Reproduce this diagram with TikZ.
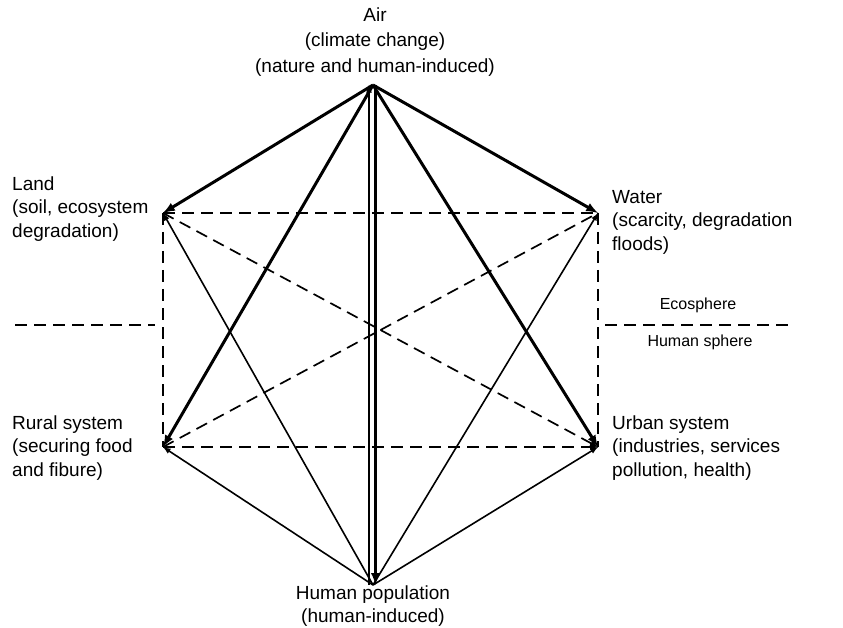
\documentclass[tikz,border=0pt]{standalone}
\usepackage{fontspec}
\setmainfont{Liberation Sans}
\usetikzlibrary{calc}
\usetikzlibrary{shapes,arrows}

\begin{document}
\begin{tikzpicture}[x=1pt,y=-1pt,
    heavy/.style={line width=3pt,-latex},
    light/.style={line width=1.6pt,-latex},
    dashline/.style={line width=1.7pt,dash pattern=on 12pt off 7pt},
    lbl/.style={font=\fontsize{19}{23.5}\selectfont,inner sep=0pt},
    small/.style={font=\fontsize{16}{20}\selectfont,inner sep=0pt}]
  \useasboundingbox (0,0) rectangle (843,628);
    \coordinate (A0) at (373,85);
    \coordinate (L0) at (163,213);
    \coordinate (W0) at (598,213);
    \coordinate (R0) at (163,447);
    \coordinate (U0) at (598,447);
    \coordinate (H0) at (373,585);
    \coordinate (D0) at (15,325);
    \coordinate (D1) at (155,325);
    \coordinate (D2) at (605,325);
    \coordinate (D3) at (790,325);
      \node [lbl,align=center,font=\fontsize{19}{25.5}\selectfont] (air) at (375,42) {Air\\(climate change)\\(nature and human-induced)};
      \node [lbl,align=left,anchor=west] (land) at (12,209) {Land\\(soil, ecosystem\\degradation)};
      \node [lbl,align=left,anchor=west] (water) at (612,222) {Water\\(scarcity, degradation\\floods)};
      \node [lbl,align=left,anchor=west] (rural) at (12,448) {Rural system\\(securing food\\and fibure)};
      \node [lbl,align=left,anchor=west] (urban) at (612,448) {Urban system\\(industries, services\\pollution, health)};
      \node [lbl,align=center] (human) at (373,606) {Human population\\(human-induced)};
      \node [small] (eco) at (698,305) {Ecosphere};
      \node [small] (hum) at (700,342) {Human sphere};
      % ecosphere / human sphere divide
      \draw [dashline] (D0) -- (D1);
      \draw [dashline] (D2) -- (D3);
      % dashed links
      \draw [dashline] (L0) -- (W0);
      \draw [dashline] (L0) -- (R0);
      \draw [dashline] (W0) -- (U0);
      \draw [dashline] (R0) -- (W0);
      \draw [dashline,-latex] (L0) -- (U0);
      \draw [dashline,-latex] (R0) -- (U0);
      % human population
      \draw [light] (H0) -- (L0);
      \draw [light] (H0) -- (W0);
      \draw [light] (H0) -- (R0);
      \draw [light] (H0) -- (U0);
      \draw [light,transform canvas={xshift=-4pt}] (H0) -- (A0);
      % air
      \draw [heavy] (A0) -- (L0);
      \draw [heavy] (A0) -- (W0);
      \draw [heavy] (A0) -- (R0);
      \draw [heavy] (A0) -- (U0);
      \draw [heavy,transform canvas={xshift=2.5pt}] (A0) -- (H0);
  \end{tikzpicture}
\end{document}
